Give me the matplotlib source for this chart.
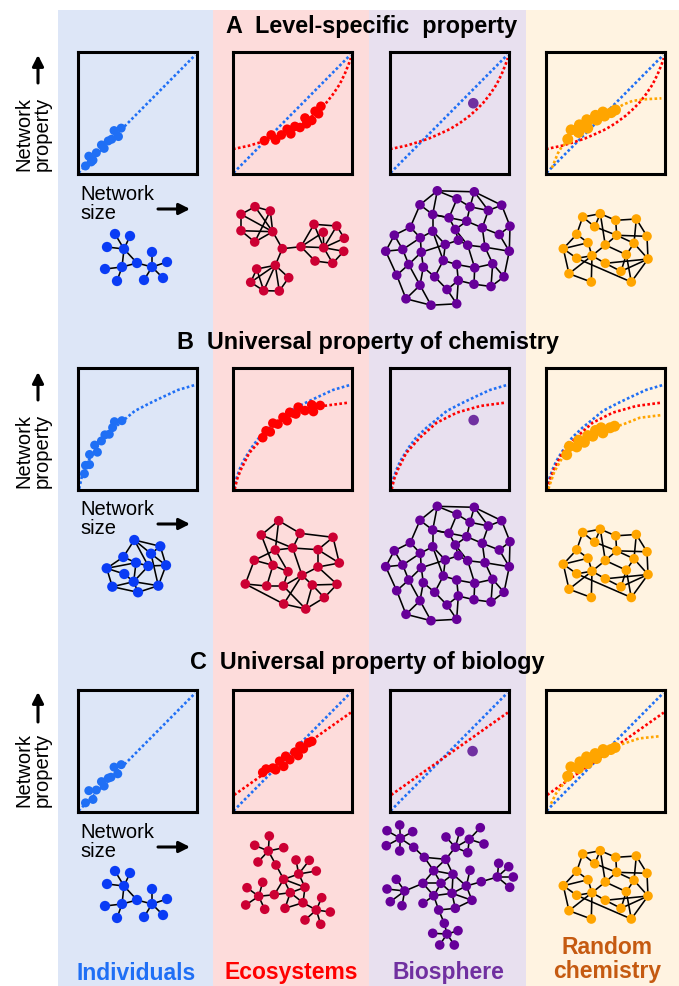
import matplotlib
matplotlib.use("Agg")
import matplotlib.pyplot as plt
from matplotlib.collections import LineCollection
from matplotlib.patches import Rectangle

plt.rcParams['font.family'] = ['Liberation Sans', 'DejaVu Sans']

W, H = 679, 986

# column labels and colours
COLUMNS = ["Individuals", "Ecosystems", "Biosphere", "Random\nchemistry"]
ROW_TITLES = ["A  Level-specific  property",
              "B  Universal property of chemistry",
              "C  Universal property of biology"]

# --- curves inside the small plots (x, y in 0..1) ---
BLUE_LIN_X = [0.005, 0.985]
BLUE_LIN_Y = [0.01, 0.975]

RED_A_X = [0.0, 0.135, 0.248, 0.332, 0.417, 0.501, 0.586, 0.67, 0.727, 0.783, 0.839, 0.896,
           0.938, 0.972, 0.99]
RED_A_Y = [0.204, 0.232, 0.265, 0.293, 0.329, 0.367, 0.417, 0.478, 0.528, 0.583, 0.652, 0.735,
           0.818, 0.9, 0.95]
ORANGE_A_X = [0.05, 0.10, 0.13, 0.25, 0.40, 0.55, 0.65, 0.73, 0.84, 0.97]
ORANGE_A_Y = [0.05, 0.17, 0.22, 0.33, 0.43, 0.51, 0.57, 0.60, 0.613, 0.62]

BLUE_B_X = [0.01, 0.03, 0.065, 0.1, 0.164, 0.22, 0.306, 0.4, 0.476, 0.6, 0.703, 0.84, 0.98]
BLUE_B_Y = [0.01, 0.1, 0.193, 0.26, 0.358, 0.43, 0.51, 0.585, 0.647, 0.71, 0.758, 0.82, 0.86]
RED_B_X = [0.014, 0.035, 0.065, 0.136, 0.249, 0.391, 0.561, 0.76, 0.97]
RED_B_Y = [0.006, 0.09, 0.165, 0.303, 0.427, 0.551, 0.634, 0.689, 0.716]
ORANGE_B_X = [0.02, 0.07, 0.14, 0.25, 0.4, 0.55, 0.646, 0.787, 0.969]
ORANGE_B_Y = [0.01, 0.15, 0.27, 0.36, 0.45, 0.51, 0.537, 0.592, 0.614]

RED_C_X = [0.01, 0.99]
RED_C_Y = [0.14, 0.815]
ORANGE_C_X = [0.042, 0.084, 0.126, 0.2, 0.35, 0.5, 0.615, 0.782, 0.964]
ORANGE_C_Y = [0.068, 0.151, 0.205, 0.3, 0.42, 0.5, 0.548, 0.603, 0.622]

# --- observed points ---
IND_A_X = [0.063, 0.091, 0.126, 0.111, 0.154, 0.197, 0.22, 0.254, 0.283, 0.303, 0.34, 0.363]
IND_A_Y = [0.066, 0.146, 0.113, 0.099, 0.174, 0.238, 0.21, 0.271, 0.285, 0.356, 0.307, 0.376]
IND_B_X = [0.054, 0.063, 0.097, 0.097, 0.14, 0.163, 0.197, 0.226, 0.263, 0.291, 0.306, 0.369]
IND_B_Y = [0.133, 0.202, 0.208, 0.291, 0.368, 0.31, 0.402, 0.452, 0.457, 0.512, 0.56, 0.568]
IND_C_X = [0.063, 0.091, 0.126, 0.154, 0.197, 0.22, 0.254, 0.277, 0.303, 0.334, 0.363]
IND_C_Y = [0.075, 0.175, 0.103, 0.18, 0.249, 0.213, 0.277, 0.285, 0.368, 0.313, 0.388]

ECO_A_X = [0.264, 0.321, 0.358, 0.406, 0.455, 0.486, 0.52, 0.563, 0.605, 0.619, 0.662, 0.69, 0.719, 0.739]
ECO_A_Y = [0.273, 0.32, 0.279, 0.32, 0.367, 0.329, 0.39, 0.381, 0.459, 0.412, 0.439, 0.514, 0.494, 0.555]
ECO_B_X = [0.25, 0.278, 0.313, 0.335, 0.378, 0.42, 0.455, 0.477, 0.528, 0.548, 0.605, 0.662, 0.676, 0.733]
ECO_B_Y = [0.429, 0.485, 0.476, 0.548, 0.54, 0.596, 0.568, 0.637, 0.623, 0.679, 0.651, 0.698, 0.643, 0.693]
ECO_C_X = [0.25, 0.278, 0.335, 0.358, 0.392, 0.426, 0.443, 0.477, 0.52, 0.548, 0.563, 0.591, 0.634, 0.662]
ECO_C_Y = [0.324, 0.352, 0.36, 0.346, 0.416, 0.374, 0.457, 0.429, 0.49, 0.463, 0.54, 0.518, 0.568, 0.579]

BIO_DOT_X = [0.70, 0.703, 0.694]
BIO_DOT_Y = [0.58, 0.573, 0.499]

RND_A_X = [0.183, 0.211, 0.275, 0.281, 0.343, 0.351, 0.416, 0.427, 0.478, 0.492, 0.548, 0.584]
RND_A_Y = [0.285, 0.362, 0.34, 0.403, 0.445, 0.376, 0.481, 0.442, 0.508, 0.475, 0.503, 0.525]
RND_B_X = [0.174, 0.197, 0.258, 0.275, 0.323, 0.351, 0.393, 0.416, 0.463, 0.478, 0.539, 0.576]
RND_B_Y = [0.289, 0.358, 0.353, 0.408, 0.391, 0.446, 0.441, 0.488, 0.51, 0.468, 0.51, 0.523]
RND_C_X = [0.182, 0.209, 0.274, 0.285, 0.341, 0.349, 0.413, 0.424, 0.48, 0.489, 0.545, 0.581]
RND_C_Y = [0.293, 0.37, 0.356, 0.411, 0.452, 0.397, 0.479, 0.438, 0.512, 0.485, 0.512, 0.529]

# --- example networks (node coordinates in figure pixels) ---
IND_TREE_X = [115, 130, 107, 124, 137, 152, 152, 167, 163, 144, 122, 105, 117]
IND_TREE_Y = [234, 236, 247, 249, 263, 267, 252, 262, 278, 280, 267, 269, 281]
IND_TREE_E = [(0, 3), (1, 3), (2, 3), (3, 10), (3, 4), (10, 4), (4, 5), (5, 6), (5, 7),
              (5, 8), (5, 9), (10, 11), (10, 12)]

IND_MESH_X = [134.3, 160.3, 123.3, 151, 106.7, 136, 148.3, 166, 124.3, 133.7, 112.3, 158.3, 138]
IND_MESH_Y = [540, 546.3, 557, 553.7, 568.3, 562.7, 566, 565.3, 574, 581.7, 586.7, 585.7, 592.3]
IND_MESH_E = [(0, 1), (0, 2), (0, 3), (0, 6), (1, 3), (1, 7), (3, 7), (2, 4), (2, 5), (4, 5),
              (4, 8), (4, 10), (5, 6), (5, 9), (6, 7), (6, 9), (8, 9), (9, 10), (9, 11),
              (10, 12), (12, 11), (11, 7), (3, 11), (12, 9)]

ECO_MOD_X = [241, 255, 270.3, 241, 272.7, 254.7, 282.3, 301, 314, 336.7, 323.3, 344.3, 323.7,
             343.7, 315, 332.7, 275.3, 256.7, 288.7, 250.7, 263.7, 279.3]
ECO_MOD_Y = [214.3, 206.7, 211, 230.7, 231.7, 242, 248.7, 246.7, 224.3, 226, 232.3, 238.3, 247.7,
             251.3, 261, 263.3, 265.3, 269, 277.7, 282.3, 290.7, 291]
ECO_MOD_E = [(0, 1), (1, 2), (0, 3), (3, 4), (2, 4), (4, 5), (3, 5), (1, 4), (2, 5), (0, 4),
             (4, 6), (6, 7), (6, 16),
             (7, 8), (7, 12), (7, 14), (7, 10), (8, 9), (8, 12), (9, 11), (9, 12), (10, 12),
             (11, 12), (12, 13), (13, 15), (12, 15), (14, 15),
             (16, 17), (16, 18), (16, 19), (16, 20), (16, 21), (17, 19), (17, 20), (18, 21),
             (19, 20), (20, 21)]

ECO_MESH_X = [278.7, 300, 261.3, 333, 275.3, 292.7, 318, 254.3, 339.3, 273, 318, 288, 302,
              245.3, 266.7, 283.3, 312.3, 337, 324.3, 283.7, 305.7]
ECO_MESH_Y = [520.7, 533.3, 535, 537.3, 550, 548, 549.7, 560.3, 563, 565.3, 567, 571.7, 575.3,
              584, 586, 586, 585, 584.3, 597.7, 604, 609]
ECO_MESH_E = [(0, 2), (0, 1), (0, 4), (1, 3), (1, 5), (2, 5), (2, 9), (3, 6), (3, 8), (6, 10),
              (6, 5), (4, 5), (4, 7), (4, 11), (7, 9), (7, 13), (9, 11), (9, 14), (11, 15),
              (12, 10), (12, 16), (12, 19), (10, 8), (10, 17), (13, 14), (13, 19), (14, 15),
              (15, 12), (16, 17), (16, 18), (16, 20), (17, 18), (19, 20), (20, 18), (15, 20),
              (6, 8), (5, 12)]

ECO_TREE_X = [269.3, 254.7, 283.7, 268.3, 258, 276, 296, 309.3, 298.7, 316.3, 283.7, 262.7, 247,
              258.7, 274.3, 290.3, 305, 245.7, 264.7, 285, 303, 316.3, 321.7, 330.3, 305, 320.7]
ECO_TREE_Y = [836, 845.3, 847.7, 851, 862, 865, 860, 860.3, 874, 871, 879.3, 882.3, 887.7,
              896.3, 894.7, 892.7, 887.3, 905, 909.3, 908.3, 902.7, 910, 897.7, 912, 920, 924.3]
ECO_TREE_E = [(0, 3), (1, 3), (2, 3), (4, 3), (3, 5), (5, 10), (10, 8), (10, 15), (10, 16),
              (10, 14), (8, 6), (8, 7), (8, 9), (8, 16), (15, 16), (15, 14), (15, 19), (15, 20),
              (16, 20), (14, 13), (13, 11), (13, 12), (13, 17), (13, 18), (20, 19), (20, 21),
              (21, 22), (21, 23), (21, 24), (21, 25)]

BIO_MESH_X = [437.3, 474.3, 420, 457, 470, 501.7, 432.7, 449, 466.7, 488.3, 510, 410.3, 432.7,
              455.3, 482.3, 499.3, 394.3, 420.3, 445.3, 458.3, 467.7, 485, 509.3, 385.7, 402.7,
              421.3, 408.7, 443.3, 456.7, 474.7, 492.7, 396.7, 423.3, 434.7, 458.3, 474, 491,
              504, 420, 447, 406, 431, 456.7]
BIO_MESH_Y = [506.3, 507.3, 520.3, 514.3, 522.3, 520.7, 530, 533.3, 536.7, 526, 541.7, 542.7,
              546.7, 545, 543.3, 550, 550.7, 553.3, 560, 555.7, 560.7, 562.7, 566.7, 566.7, 565,
              567.7, 580, 576, 580, 583.3, 579.3, 590.7, 582.7, 592.3, 596, 599.7, 602, 592.3,
              600.7, 605, 614.3, 620.7, 619.3]
BIO_MESH_E = [(0, 1), (0, 2), (0, 6), (0, 3), (1, 5), (1, 4), (1, 9), (3, 4), (3, 7), (2, 6),
              (2, 11), (6, 7), (6, 12), (6, 8), (7, 13), (4, 9), (4, 8), (8, 13), (8, 14), (9, 14),
              (9, 5), (5, 10), (10, 15), (10, 22), (14, 15), (14, 21), (13, 19), (12, 17),
              (12, 18), (11, 16), (11, 17), (16, 23), (16, 24), (17, 25), (17, 24), (18, 19),
              (18, 27), (19, 20), (20, 21), (20, 29), (21, 22), (21, 30), (22, 37), (23, 24),
              (23, 31), (24, 26), (25, 32), (25, 26), (26, 31), (26, 38), (27, 28), (27, 33),
              (28, 29), (28, 34), (29, 30), (30, 37), (30, 36), (31, 40), (32, 33), (32, 38),
              (33, 39), (34, 35), (34, 39), (35, 36), (36, 37), (38, 40), (38, 41), (39, 42),
              (41, 42), (40, 41), (15, 22), (13, 20), (12, 27), (18, 25), (35, 29), (34, 42)]

BIO_TREE_X = [400.3, 387, 399.7, 412.7, 386.3, 399.7, 413.7, 424.3, 445.7, 455.3, 446, 459.7,
              469.3, 480.3, 484, 467.7, 433.7, 453, 423, 441, 470, 466.3, 481.3, 433.7, 452, 472,
              423, 438.7, 455.3, 497.3, 498.7, 508.7, 513.3, 509.7, 404.7, 396.3, 387, 390.3,
              402, 444.3, 447, 432.7, 458, 439.7, 454.3]
BIO_TREE_Y = [838.3, 830.7, 825, 831.7, 845.7, 851, 847.3, 857.3, 859.3, 847.3, 837, 831.7,
              839.3, 827.7, 844, 852.7, 870.7, 874.3, 883.3, 883.3, 870.3, 886, 881.7, 895.7,
              893.3, 900.3, 903.3, 910, 908.3, 877, 863.3, 866.7, 877, 887.3, 891, 879.3, 889,
              901.7, 905.7, 923.3, 934, 933.3, 930.7, 945, 945]
BIO_TREE_E = [(0, 1), (0, 2), (0, 3), (0, 4), (0, 5), (0, 6), (6, 7), (7, 8), (7, 16), (8, 16),
              (8, 9), (9, 10), (9, 11), (9, 12), (12, 13), (12, 14), (12, 15), (9, 15), (16, 17),
              (16, 18), (16, 19), (8, 17), (17, 21), (17, 24), (17, 19), (18, 19), (18, 23),
              (18, 34), (19, 23), (19, 24), (24, 23), (24, 21), (24, 28), (24, 25), (23, 27),
              (27, 28), (28, 25), (21, 20), (21, 25), (21, 22), (22, 29), (29, 30), (29, 31),
              (29, 32), (29, 33), (34, 35), (34, 36), (34, 37), (34, 38), (27, 39), (39, 40),
              (40, 41), (40, 42), (40, 43), (40, 44), (23, 26)]

RAND_X = [582.7, 600.3, 615.7, 636.3, 594.7, 576.7, 616.7, 647, 588, 605.3, 634, 563.3, 576.7,
          592, 626.3, 605.3, 648, 621, 569, 591.3, 631.3]
RAND_Y = [217, 213.7, 220.3, 219, 226.7, 234.3, 235.3, 236.3, 242.7, 245, 243.3, 248.7, 258.3,
          255.7, 254.7, 263.3, 259, 271.3, 273.7, 282, 282]
RAND_E = [(0, 1), (0, 4), (0, 5), (1, 2), (1, 4), (1, 9), (2, 3), (2, 6), (3, 7), (3, 10),
          (4, 6), (5, 8), (5, 11), (6, 7), (6, 9), (6, 10), (7, 16), (8, 13), (8, 11), (9, 13),
          (9, 14), (10, 14), (10, 16), (11, 12), (11, 18), (12, 13), (12, 20), (13, 15),
          (13, 19), (13, 18), (18, 19), (15, 16), (15, 17), (14, 17), (14, 20), (16, 20),
          (16, 17)]

BLUE = '#1f6ff5'
BLUE_NODE = '#0a3cf5'
RED = '#ff0000'
RED_NODE = '#cc0033'
PURPLE = '#7030a0'
PURPLE_NODE = '#660099'
ORANGE = '#ffa500'
LABEL_COLORS = [BLUE, RED, PURPLE, '#c55a11']
BG_COLORS = ['#dde6f7', '#fddcdb', '#e8e0ef', '#fff3e1']
COL_EDGES = [58, 213, 369, 526, 679]

PANEL_LEFT = [78, 233, 390, 546]
ROW_TOP = [52, 368, 690]
PANEL_W, PANEL_H = 119, 122
ROW_SHIFT = [0, 315.5, 637]

fig = plt.figure(figsize=(W / 100, H / 100), dpi=100)
ax = fig.add_axes([0, 0, 1, 1])
ax.set_xlim(0, W)
ax.set_ylim(H, 0)
ax.axis('off')

for i, c in enumerate(BG_COLORS):
    ax.add_patch(Rectangle((COL_EDGES[i], 10), COL_EDGES[i + 1] - COL_EDGES[i], H - 10,
                           facecolor=c, edgecolor='none', zorder=0))


def draw_net(xs, ys, edges, dy, color, size=48):
    segs = [[(xs[a], ys[a] + dy), (xs[b], ys[b] + dy)] for a, b in edges]
    ax.add_collection(LineCollection(segs, colors='black', linewidths=1.15, zorder=2))
    ax.scatter(xs, [y + dy for y in ys], s=size, color=color, edgecolors='none', zorder=3)


def dotted(pax, x, y, color):
    pax.plot(x, y, color=color, lw=1.9, linestyle=(0, (1.0, 0.9)), zorder=2)


def panel(row, col):
    x0 = PANEL_LEFT[col]
    y0 = ROW_TOP[row]
    pax = fig.add_axes([x0 / W, 1 - (y0 + PANEL_H) / H, PANEL_W / W, PANEL_H / H])
    pax.set_xlim(0, 1)
    pax.set_ylim(0, 1)
    pax.set_xticks([])
    pax.set_yticks([])
    pax.patch.set_alpha(0)
    for s in pax.spines.values():
        s.set_linewidth(2.2)
    return pax


curves_blue = [(BLUE_LIN_X, BLUE_LIN_Y), (BLUE_B_X, BLUE_B_Y), (BLUE_LIN_X, BLUE_LIN_Y)]
curves_red = [(RED_A_X, RED_A_Y), (RED_B_X, RED_B_Y), (RED_C_X, RED_C_Y)]
curves_orange = [(ORANGE_A_X, ORANGE_A_Y), (ORANGE_B_X, ORANGE_B_Y), (ORANGE_C_X, ORANGE_C_Y)]
ind_pts = [(IND_A_X, IND_A_Y), (IND_B_X, IND_B_Y), (IND_C_X, IND_C_Y)]
eco_pts = [(ECO_A_X, ECO_A_Y), (ECO_B_X, ECO_B_Y), (ECO_C_X, ECO_C_Y)]
rnd_pts = [(RND_A_X, RND_A_Y), (RND_B_X, RND_B_Y), (RND_C_X, RND_C_Y)]

for r in range(3):
    p = panel(r, 0)
    dotted(p, *curves_blue[r], BLUE)
    p.scatter(*ind_pts[r], s=42, color=BLUE, edgecolors='none', zorder=3)

    p = panel(r, 1)
    dotted(p, *curves_blue[r], BLUE)
    dotted(p, *curves_red[r], RED)
    p.scatter(*eco_pts[r], s=48, color=RED, edgecolors='none', zorder=3)

    p = panel(r, 2)
    dotted(p, *curves_blue[r], BLUE)
    dotted(p, *curves_red[r], RED)
    p.scatter([BIO_DOT_X[r]], [BIO_DOT_Y[r]], s=58, color=PURPLE, edgecolors='none', zorder=3)

    p = panel(r, 3)
    dotted(p, *curves_blue[r], BLUE)
    dotted(p, *curves_red[r], RED)
    dotted(p, *curves_orange[r], ORANGE)
    p.scatter(*rnd_pts[r], s=62, color=ORANGE, edgecolors='none', zorder=3)

# networks
draw_net(IND_TREE_X, IND_TREE_Y, IND_TREE_E, 0, BLUE_NODE, 55)
draw_net(IND_MESH_X, IND_MESH_Y, IND_MESH_E, 0, BLUE_NODE, 55)
draw_net(IND_TREE_X, IND_TREE_Y, IND_TREE_E, ROW_SHIFT[2], BLUE_NODE, 55)
draw_net(ECO_MOD_X, ECO_MOD_Y, ECO_MOD_E, 0, RED_NODE)
draw_net(ECO_MESH_X, ECO_MESH_Y, ECO_MESH_E, 0, RED_NODE)
draw_net(ECO_TREE_X, ECO_TREE_Y, ECO_TREE_E, 0, RED_NODE)
draw_net(BIO_MESH_X, BIO_MESH_Y, BIO_MESH_E, -ROW_SHIFT[1], PURPLE_NODE)
draw_net(BIO_MESH_X, BIO_MESH_Y, BIO_MESH_E, 0, PURPLE_NODE)
draw_net(BIO_TREE_X, BIO_TREE_Y, BIO_TREE_E, 0, PURPLE_NODE)
for r in range(3):
    draw_net(RAND_X, RAND_Y, RAND_E, ROW_SHIFT[r], ORANGE)

# row titles
title_x = [226, 177, 190]
title_y = [27, 343, 662]
for t, x, y in zip(ROW_TITLES, title_x, title_y):
    ax.text(x, y, t, fontsize=16.8, fontweight='bold', ha='left', va='center')

# axis hints on the left
arrow_kw = dict(arrowstyle='-|>,head_length=0.65,head_width=0.33', lw=2.2, color='black',
                shrinkA=0, shrinkB=0)
prop_y = [134, 451, 770]
up_arrow = [(55, 83), (372, 400), (692, 722)]
size_y = [204, 519, 842]
for r in range(3):
    ax.text(33, prop_y[r], "Network\nproperty", rotation=90, fontsize=14.5,
            ha='center', va='center', linespacing=1.0)
    ax.annotate('', xy=(38, up_arrow[r][0]), xytext=(38, up_arrow[r][1]), arrowprops=arrow_kw)
    ax.text(80, size_y[r], "Network\nsize", fontsize=14.5, ha='left', va='center',
            linespacing=1.05)
    ax.annotate('', xy=(190, size_y[r] + 5), xytext=(158, size_y[r] + 5), arrowprops=arrow_kw)

# column names
label_x = [136, 291, 448, 607]
label_y = [973, 973, 973, 959.5]
for name, x, y, c in zip(COLUMNS, label_x, label_y, LABEL_COLORS):
    ax.text(x, y, name, color=c, fontsize=16.5, fontweight='bold', ha='center', va='center',
            linespacing=1.05)

fig.savefig("out.png", dpi=100)
